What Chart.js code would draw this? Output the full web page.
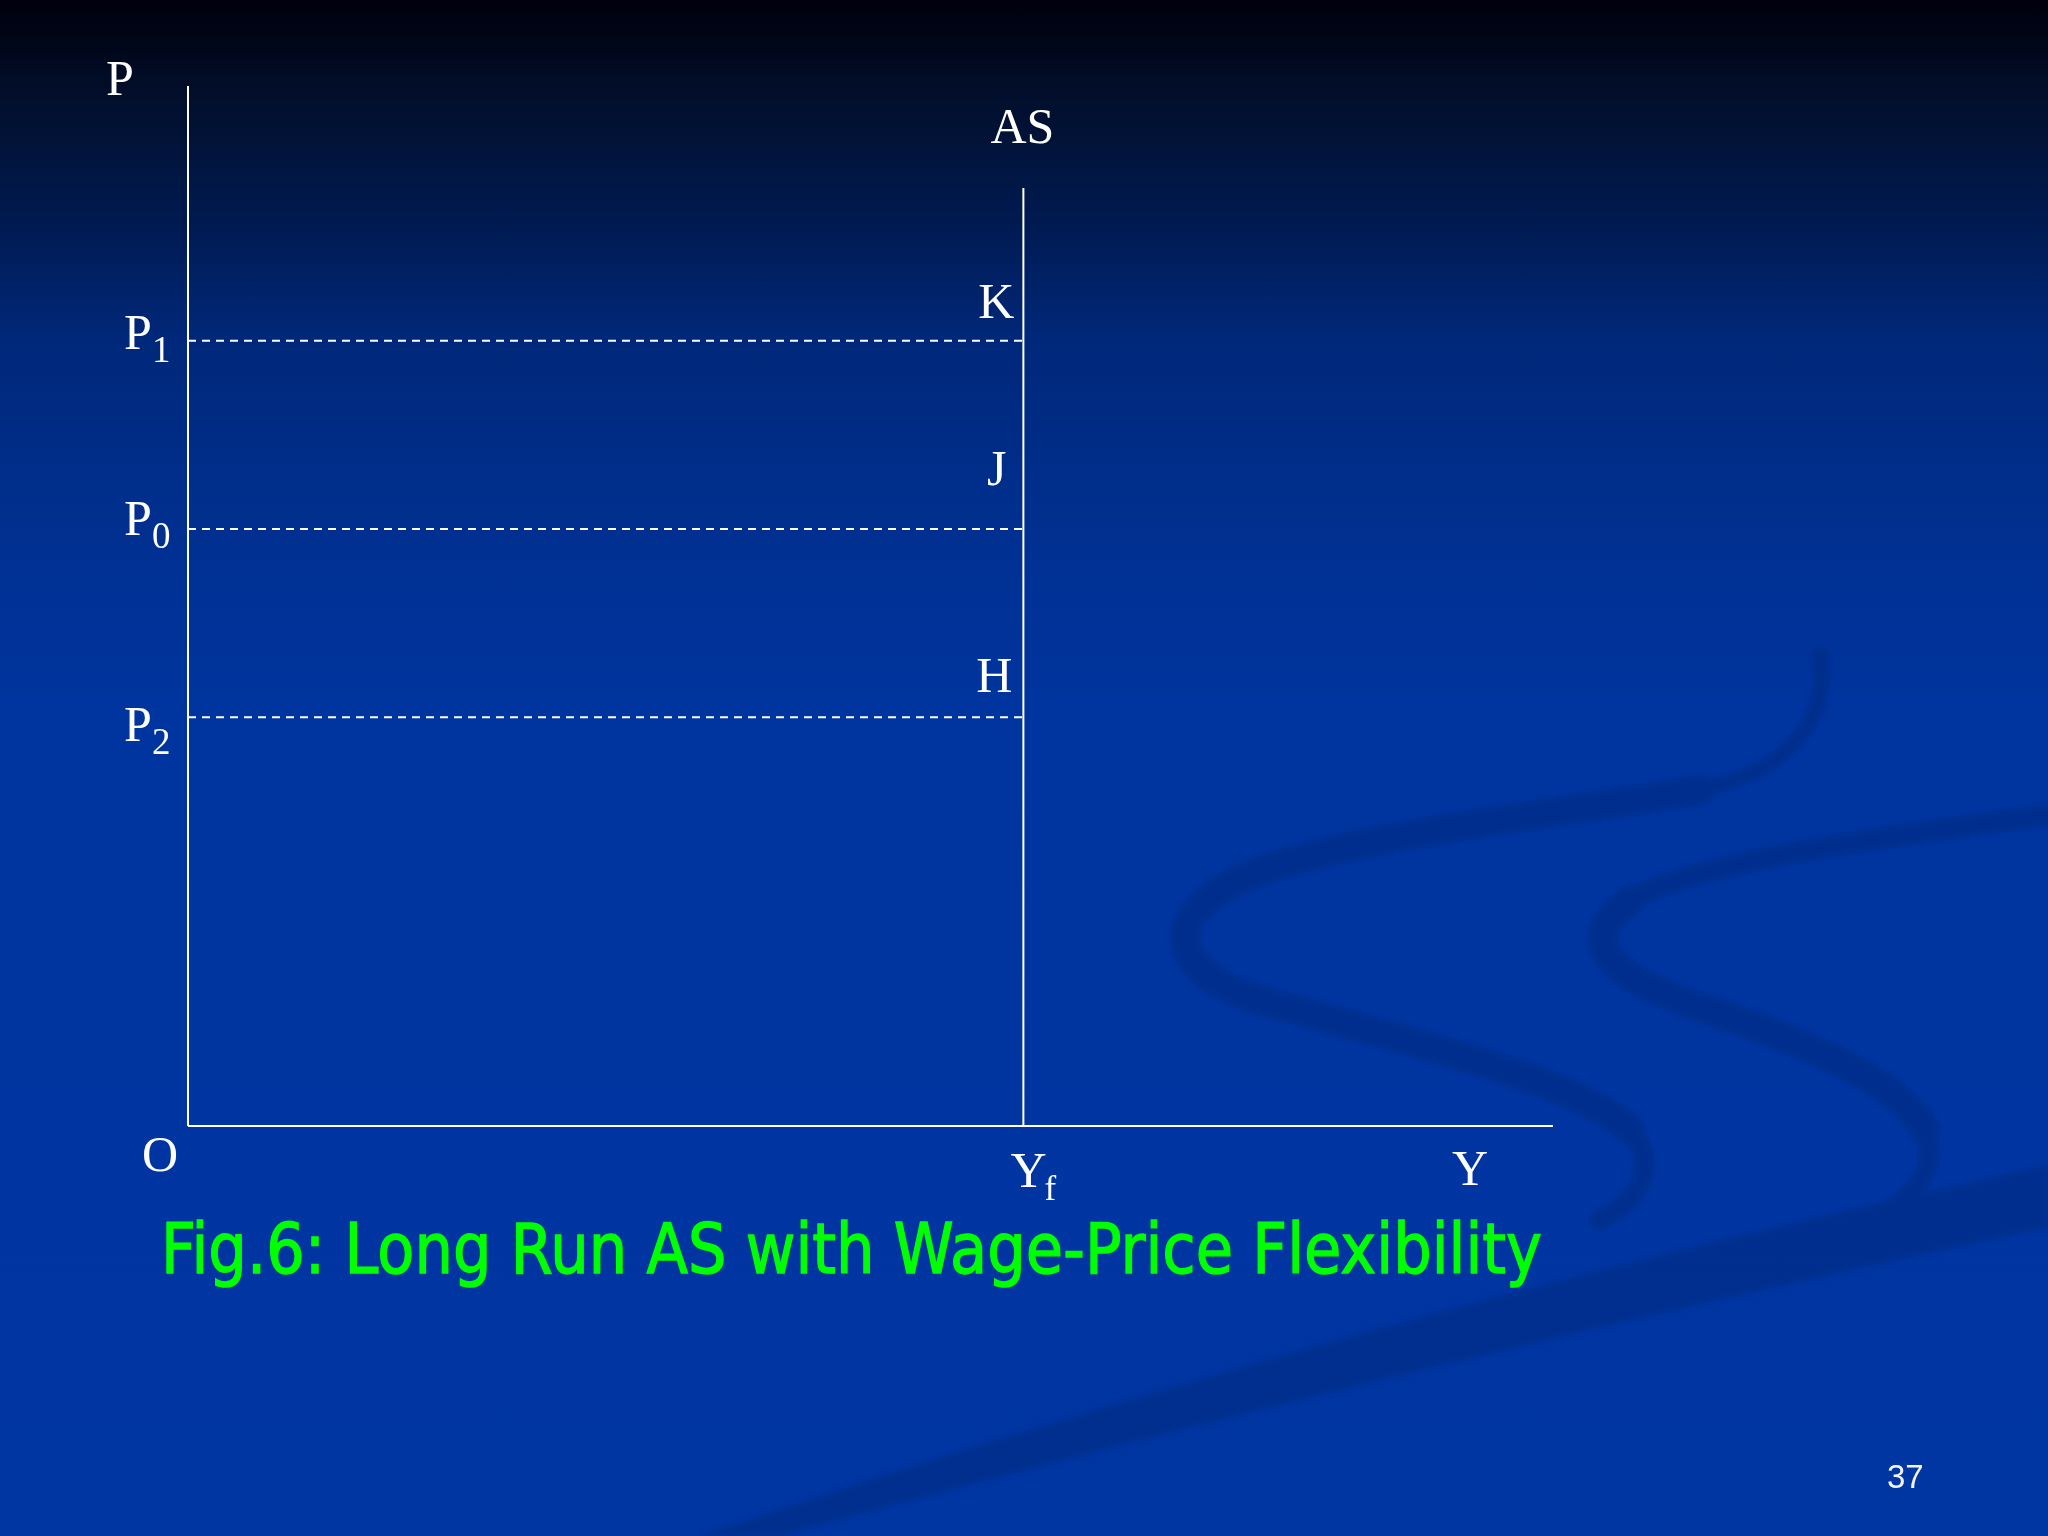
<!DOCTYPE html>
<html>
<head>
<meta charset="utf-8">
<script src="https://cdn.jsdelivr.net/npm/chart.js@4.4.1/dist/chart.umd.min.js"></script>
<style>
  html, body { margin: 0; padding: 0; }
  body {
    width: 2048px; height: 1536px; overflow: hidden; position: relative;
    background: linear-gradient(to bottom,
      #00000e 0px, #000414 30px, #020e2a 90px, #001a50 220px,
      #00287a 340px, #002f8e 510px, #0035a0 720px, #0036a2 1536px);
  }
  #deco { position: absolute; left: 0; top: 0; }
  #wrap { position: absolute; left: 0; top: 0; width: 2048px; height: 1536px; }
</style>
</head>
<body>
<!-- slide template swirls (background decoration only) -->
<svg id="deco" width="2048" height="1536" viewBox="0 0 2048 1536">
  <defs><filter id="soft"><feGaussianBlur stdDeviation="2.5"/></filter></defs>
  <g filter="url(#soft)" opacity="0.55">
    <g fill="none" stroke="#002a80" stroke-linecap="round">
      <path d="M1820,655 C1830,720 1790,770 1700,790" stroke-width="16"/>
      <path d="M1700,790 C1550,815 1300,840 1220,890 C1160,930 1180,975 1260,1000 C1400,1040 1580,1080 1630,1130" stroke-width="30"/>
      <path d="M1630,1130 C1660,1165 1640,1200 1600,1220" stroke-width="20"/>
      <path d="M2048,815 C1900,835 1700,860 1630,900" stroke-width="22"/>
      <path d="M1630,900 C1580,935 1600,970 1680,1000 C1800,1040 1900,1080 1925,1130" stroke-width="30"/>
      <path d="M1925,1130 C1940,1170 1910,1200 1880,1215" stroke-width="20"/>
    </g>
    <path d="M2048,1165 L2048,1228 C1700,1300 1200,1420 780,1536 L700,1536 C1100,1400 1600,1260 2048,1165 Z" fill="#002a80"/>
  </g>
</svg>
<div id="wrap"><canvas id="c"></canvas></div>
<script>
// value space of the diagram
const X_MAX = 100;
const Y_MAX = 100;
// price levels P1, P0, P2
const priceLevels = [75.5, 57.4, 39.3];
const priceSubs   = ['1', '0', '2'];
// equilibrium points on the AS line at those prices
const pointNames  = ['K', 'J', 'H'];
// full-employment output Yf and top of the vertical AS line
const yFull = 61.2;
const asTop = 90.2;

const CAPTION = 'Fig.6: Long Run AS with Wage-Price Flexibility';
const PAGE_NO = '37';

const WHITE = '#ffffff';
const SERIF = '"Liberation Serif", "DejaVu Serif", serif';

function seg(label, pts, dash = [], width = 2) {
  return {
    label,
    data: pts,
    borderColor: WHITE,
    borderWidth: width,
    borderDash: dash,
    pointRadius: 0,
    tension: 0,
    fill: false,
    clip: false,
  };
}

const datasets = [
  seg('P axis', [{ x: 0, y: 0 }, { x: 0, y: Y_MAX }]),
  seg('Y axis', [{ x: 0, y: 0 }, { x: X_MAX, y: 0 }]),
  seg('AS', [{ x: yFull, y: 0 }, { x: yFull, y: asTop }]),
  ...priceLevels.map((p, i) =>
    seg('P' + priceSubs[i], [{ x: 0, y: p }, { x: yFull, y: p }], [8, 6], 2)),
];

// pixel nudges for the hand-placed slide labels
const pTweak   = [8, 6, 24];          // baseline below each dashed line
const ptTweak  = [[9, 23], [17, 44], [11, 25]]; // [left of AS, above line]

const labelsPlugin = {
  id: 'slideLabels',
  afterDraw(chart) {
    const { ctx, scales: { x, y } } = chart;
    const x0 = x.getPixelForValue(0);
    const y0 = y.getPixelForValue(0);
    const xf = x.getPixelForValue(yFull);
    const xEnd = x.getPixelForValue(X_MAX);
    const yTop = y.getPixelForValue(Y_MAX);
    const yAs = y.getPixelForValue(asTop);

    ctx.save();
    ctx.fillStyle = WHITE;
    ctx.textBaseline = 'alphabetic';
    const big = '50px ' + SERIF;
    const sub = '37px ' + SERIF;

    // axis names
    ctx.font = big;
    ctx.textAlign = 'center';
    ctx.fillText('P', x0 - 68, yTop + 9);
    ctx.fillText('O', x0 - 28, y0 + 45);
    ctx.fillText('Y', xEnd - 83, y0 + 59);
    ctx.fillText('AS', xf - 1, yAs - 45);

    // Yf
    ctx.textAlign = 'left';
    ctx.fillText('Y', xf - 13, y0 + 61);
    ctx.font = '35px ' + SERIF;
    ctx.fillText('f', xf + 21, y0 + 74);

    // price labels with subscripts
    priceLevels.forEach((p, i) => {
      const py = y.getPixelForValue(p);
      ctx.font = big;
      ctx.textAlign = 'left';
      ctx.fillText('P', x0 - 64, py + pTweak[i]);
      ctx.font = sub;
      ctx.fillText(priceSubs[i], x0 - 36, py + pTweak[i] + 13);

      ctx.font = big;
      ctx.textAlign = 'right';
      ctx.fillText(pointNames[i], xf - ptTweak[i][0], py - ptTweak[i][1]);
    });

    // caption, squeezed to the slide's width
    ctx.font = '69px "DejaVu Sans", sans-serif';
    ctx.textAlign = 'left';
    ctx.fillStyle = '#00ff00';
    ctx.strokeStyle = '#00ff00';
    ctx.lineWidth = 1.4;
    const w = ctx.measureText(CAPTION).width;
    ctx.save();
    ctx.translate(161, 1273);
    ctx.scale(1381 / w, 1);
    ctx.fillText(CAPTION, 0, 0);
    ctx.strokeText(CAPTION, 0, 0);
    ctx.restore();

    // slide number
    ctx.font = '33px "Liberation Sans", Arial, sans-serif';
    ctx.fillStyle = '#f2f4fa';
    ctx.fillText(PAGE_NO, 1887, 1488);
    ctx.restore();
  },
};

new Chart(document.getElementById('c'), {
  type: 'line',
  data: { datasets },
  options: {
    responsive: true,
    maintainAspectRatio: false,
    devicePixelRatio: 1,
    animation: false,
    layout: { padding: { left: 188, right: 495, top: 86, bottom: 410 } },
    scales: {
      x: { type: 'linear', min: 0, max: X_MAX, display: false },
      y: { type: 'linear', min: 0, max: Y_MAX, display: false },
    },
    plugins: {
      legend: { display: false },
      tooltip: { enabled: false },
      title: { display: false },
    },
  },
  plugins: [labelsPlugin],
});
</script>
</body>
</html>
